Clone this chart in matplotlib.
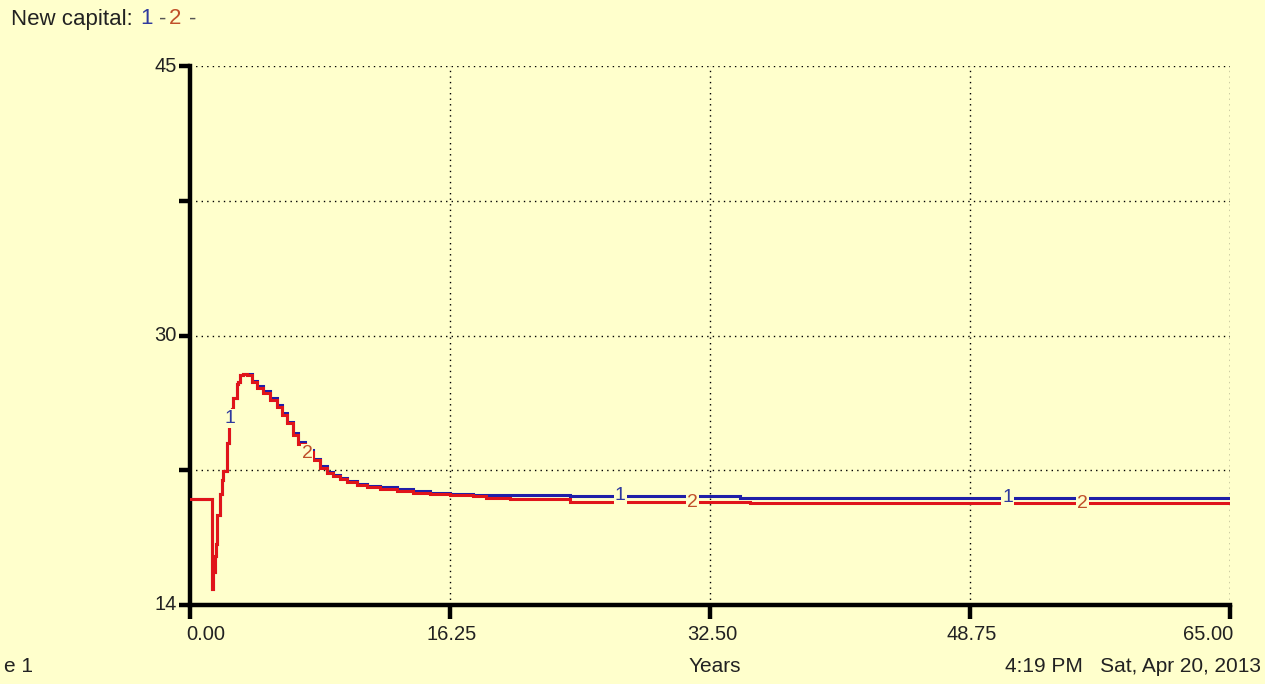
import numpy as np
import matplotlib
matplotlib.use("Agg")
import matplotlib.pyplot as plt
from matplotlib.transforms import ScaledTranslation

plt.rcParams['font.family'] = ['Liberation Sans', 'DejaVu Sans']

# ---- data ----
t2 = [0, 1.35, 1.45, 1.56, 1.63, 1.71, 1.88, 2.0, 2.08, 2.29, 2.45, 2.6, 2.71, 2.92,
      3.02, 3.13, 3.33, 3.54, 3.85, 4.17, 4.58, 5.0, 5.42, 5.73, 6.04, 6.46, 6.77,
      7.2, 7.71, 8.13, 8.54, 8.96, 9.38, 9.79, 10.42, 11.04, 11.88, 12.92, 13.96,
      15.0, 16.25, 17.7, 18.5, 20.0, 23.75, 29.0, 35.0, 41.4, 47.5, 65]
y2 = [20.1, 14.9, 15.9, 16.8, 17.5, 19.2, 20.4, 21.2, 21.7, 23.3, 24.4, 25.3, 25.9,
      26.7, 26.85, 27.2, 27.3, 27.2, 26.8, 26.5, 26.2, 25.8, 25.4, 24.95, 24.45,
      23.8, 23.25, 22.8, 22.35, 21.9, 21.6, 21.42, 21.22, 21.08, 20.93, 20.8, 20.7,
      20.58, 20.46, 20.37, 20.32, 20.26, 20.14, 20.1, 19.9, 19.9, 19.88, 19.85,
      19.84, 19.84]
t1 = [0, 1.35, 1.45, 1.56, 1.63, 1.71, 1.88, 2.0, 2.08, 2.29, 2.45, 2.6, 2.71, 2.92,
      3.02, 3.13, 3.33, 3.54, 3.85, 4.17, 4.58, 5.0, 5.42, 5.73, 6.04, 6.46, 6.77,
      7.2, 7.71, 8.13, 8.54, 8.96, 9.38, 9.79, 10.42, 11.04, 11.88, 12.92, 13.96,
      15.0, 16.25, 17.7, 18.5, 20.0, 23.75, 29.0, 34.4, 41.4, 47.5, 65]
y1 = [20.1, 14.9, 15.9, 16.8, 17.5, 19.2, 20.4, 21.2, 21.7, 23.3, 24.4, 25.3, 25.9,
      26.7, 26.85, 27.2, 27.3, 27.28, 26.9, 26.6, 26.3, 25.9, 25.5, 25.05, 24.55,
      23.9, 23.35, 22.9, 22.42, 21.97, 21.66, 21.48, 21.28, 21.14, 20.98, 20.86,
      20.77, 20.66, 20.55, 20.45, 20.4, 20.33, 20.3, 20.3, 20.29, 20.29, 20.17,
      20.17, 20.17, 20.17]
x_ticks = [0.0, 16.25, 32.5, 48.75, 65.0]
x_tick_labels = ["0.00", "16.25", "32.50", "48.75", "65.00"]
y_min, y_max = 14, 45
y_label_vals = [45, 29.5, 14]
y_label_text = ["45", "30", "14"]
label1_t = [2.5, 26.9, 51.1]
label2_t = [7.31, 31.4, 55.8]

BG = "#FFFFCC"
BLUE = "#1f1fa8"
RED = "#e0141a"
LBL1 = "#2f3a9e"
LBL2 = "#c0502a"
TXT = "#222222"

fig = plt.figure(figsize=(12.65, 6.84), dpi=100, facecolor=BG)
ax = fig.add_axes([190/1265, 1-605/684, 1040/1265, 539/684], facecolor=BG)

ax.plot(t1, y1, drawstyle='steps-post', color=BLUE, lw=2.2, zorder=3,
        solid_joinstyle='miter')
ax.plot(t2, y2, drawstyle='steps-post', color=RED, lw=2.2, zorder=4,
        solid_joinstyle='miter')

# series labels on lines
for tt in label1_t:
    yy = np.interp(tt, t1, y1)
    ax.text(tt, yy, "1", color=LBL1, fontsize=14, ha='center', va='center', zorder=6,
            bbox=dict(boxstyle='square,pad=0.05', fc=BG, ec='none'))
for tt in label2_t:
    yy = np.interp(tt, t2, y2)
    ax.text(tt, yy, "2", color=LBL2, fontsize=14, ha='center', va='center', zorder=6,
            bbox=dict(boxstyle='square,pad=0.05', fc=BG, ec='none'))

ax.set_xlim(0, 65)
ax.set_ylim(y_min, y_max)

# grid lines
grid_y = np.linspace(y_min, y_max, 5)
for gy in grid_y[1:]:
    ax.axhline(gy, color='black', lw=1.0, ls=(0, (1, 3)), zorder=1)
for gx in x_ticks[1:]:
    ax.axvline(gx, color='black', lw=1.0, ls=(0, (1, 3)), zorder=1)

for s in ['top', 'right']:
    ax.spines[s].set_visible(False)
ax.spines['left'].set_linewidth(3.2)
ax.spines['bottom'].set_linewidth(3.2)

ax.set_xticks(x_ticks)
ax.set_xticklabels(["" for _ in x_ticks])
ax.set_yticks(grid_y)
ax.set_yticklabels(["" for _ in grid_y])
ax.tick_params(axis='x', direction='out', length=10, width=3.2)
ax.tick_params(axis='y', direction='out', length=8, width=3.2)

# x tick labels
xt = ax.get_xaxis_transform()
for i, (v, s) in enumerate(zip(x_ticks, x_tick_labels)):
    if i == 0:
        ha, dx = 'left', -4
    elif i == len(x_ticks) - 1:
        ha, dx = 'right', 3
    else:
        ha, dx = 'center', 2
    ax.text(v, 0, s, ha=ha, va='center', fontsize=14.5, color=TXT,
            transform=xt + ScaledTranslation(dx/100, -30/100, fig.dpi_scale_trans))

# y tick labels
for v, s in zip(y_label_vals, y_label_text):
    ax.text(0, v, s, ha='right', va='center', fontsize=14.5, color=TXT,
            transform=ax.transData + ScaledTranslation(-13/100, 0, fig.dpi_scale_trans))

# header
def ftext(px, py, s, size=16, **kw):
    fig.text(px/1265, 1-py/684, s, va='center', fontsize=size, **kw)

ftext(11, 19, "New capital:", color=TXT)
ftext(140, 19, "1", color=LBL1)
ftext(159, 19, "-", color='#555555')
ftext(169, 19, "2", color=LBL2)
ftext(189, 19, "-", color='#555555')

ftext(4, 667, "e 1", size=15, color=TXT)
fig.text(715/1265, 1-667/684, "Years", ha='center', va='center', fontsize=15, color=TXT)
fig.text(1261/1265, 1-667/684, "4:19 PM   Sat, Apr 20, 2013", ha='right', va='center',
         fontsize=15, color=TXT)

fig.savefig("out.png", dpi=100, facecolor=BG)
